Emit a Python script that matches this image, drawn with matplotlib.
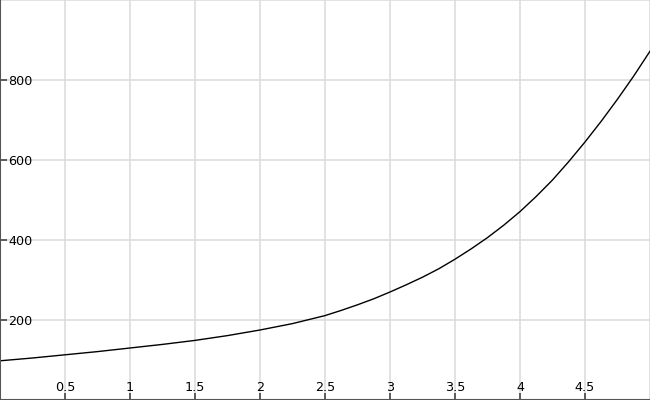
import matplotlib
matplotlib.use("Agg")
import matplotlib.pyplot as plt

# values
x_vals = [0, 0.25, 0.5, 0.75, 1, 1.25, 1.5, 1.75, 2, 2.25, 2.5,
          2.625, 2.75, 2.875, 3, 3.125, 3.25, 3.375, 3.5, 3.625, 3.75,
          3.875, 4, 4.125, 4.25, 4.375, 4.5, 4.625, 4.75, 4.875, 5]
y_vals = [98, 105, 113, 121, 130, 139, 149, 161, 175, 191, 211,
          224, 238, 253, 270, 288, 307, 328, 352, 378, 406,
          437, 471, 509, 550, 596, 645, 697, 752, 810, 872]

x_ticks = [0.5, 1, 1.5, 2, 2.5, 3, 3.5, 4, 4.5]
x_labels = ["0.5", "1", "1.5", "2", "2.5", "3", "3.5", "4", "4.5"]
y_ticks = [200, 400, 600, 800]
y_labels = ["200", "400", "600", "800"]

fig = plt.figure(figsize=(6.5, 4), dpi=100)
ax = fig.add_axes([0, 0, 1, 1])

grid_col = "#dddddd"
ax.set_xlim(0, 5)
ax.set_ylim(0, 1000)
ax.set_xticks(x_ticks)
ax.set_xticklabels(x_labels)
ax.set_yticks(y_ticks)
ax.set_yticklabels(y_labels)
ax.grid(True, color=grid_col, linewidth=1.2)
ax.axvline(5, color=grid_col, linewidth=1.2)
ax.axhline(1000, color=grid_col, linewidth=1.2)
ax.set_axisbelow(True)

ax.plot(x_vals, y_vals, color="black", linewidth=1.0)

for side in ["top", "right"]:
    ax.spines[side].set_visible(False)
for side in ["left", "bottom"]:
    ax.spines[side].set_color("#555555")
    ax.spines[side].set_linewidth(1.5)

ax.tick_params(axis="both", direction="in", length=5, width=1.2,
               color="#444444", labelsize=9.2, labelcolor="black")
ax.tick_params(axis="y", pad=-5.8)
ax.tick_params(axis="x", pad=-6.5)
for lab in ax.get_yticklabels():
    lab.set_horizontalalignment("left")
for lab in ax.get_xticklabels():
    lab.set_verticalalignment("baseline")

fig.savefig("out.png", dpi=100)
